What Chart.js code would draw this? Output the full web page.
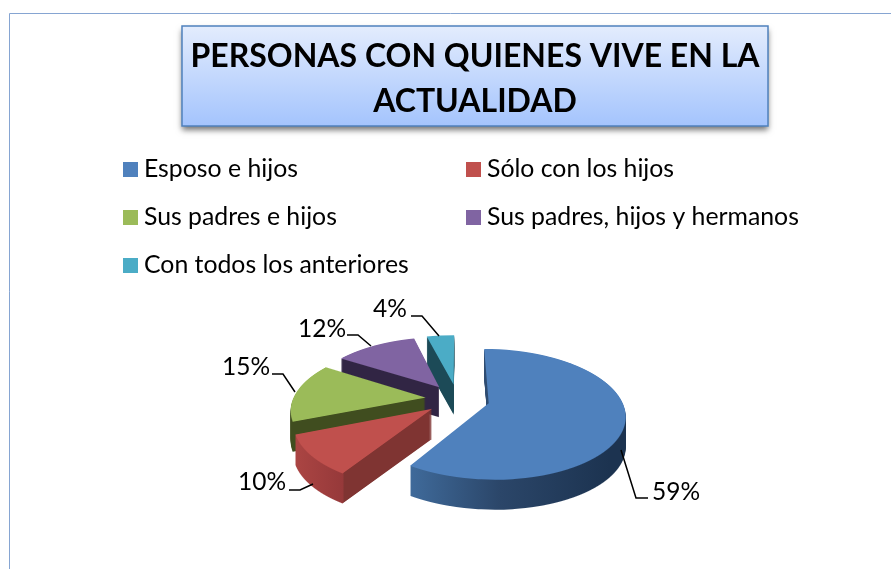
<!DOCTYPE html>
<html lang="es">
<head>
<meta charset="utf-8">
<title>Personas con quienes vive en la actualidad</title>
<script src="https://cdn.jsdelivr.net/npm/chart.js@4"></script>
<style>html,body{margin:0;padding:0;background:#fff}canvas{display:block}</style>
</head>
<body>
<canvas id="c" width="891" height="569"></canvas>
<script>
const titleLines = ['PERSONAS CON QUIENES VIVE EN LA', 'ACTUALIDAD'];
const categories = ['Esposo e hijos', 'Sólo con los hijos', 'Sus padres e hijos', 'Sus padres, hijos y hermanos', 'Con todos los anteriores'];
const values = [59, 10, 15, 12, 4];
const sliceColors = ['#4f81bd', '#c0504d', '#9bbb59', '#8064a2', '#4bacc6'];

// Layout and style constants
const FONT = 'Lato, "Open Sans", sans-serif';
const view = { cx: 457.5, cy: 399, xScale: 0.982, yScale: 0.46, persp: 0.167, explode: 32.7, depth: 30 };
const legendCols = [123, 466], legendRows = [162, 210, 258], swatch = 15, legendFont = 24.8, pctFont = 24.5;
const wallStops = [
  [[411, '#3f6a9a'], [500, '#2b4669'], [610, '#1c3350']],
  [[295, '#ab4543'], [343, '#96393a'], [344, '#7f3432'], [431, '#7f3432']],
  [[280, '#404d1f'], [440, '#404d1f']],
  [[330, '#312544'], [440, '#312544']],
  [[420, '#1c4a57'], [460, '#1c4a57']]
];
// per slice: elbow polyline and label anchor [x, y(mid)], left edge of text
const leaders = [
  { pts: [[621, 450], [636, 498], [648, 498]], tx: 652, ty: 492 },
  { pts: [[313, 484], [300, 490], [289, 490]], tx: 238, ty: 482 },
  { pts: [[295, 392], [283, 374], [272, 374]], tx: 222, ty: 367 },
  { pts: [[371, 346], [358, 335], [347, 335]], tx: 298, ty: 329 },
  { pts: [[439, 336], [422, 316], [411, 316]], tx: 373, ty: 309 }
];

function paintFrame(ctx) {
  ctx.save();
  ctx.strokeStyle = '#86a5d2';
  ctx.lineWidth = 1;
  ctx.beginPath();
  ctx.moveTo(9.5, 569); ctx.lineTo(9.5, 13.5); ctx.lineTo(891, 13.5);
  ctx.stroke();
  // title box
  const g = ctx.createLinearGradient(0, 26, 0, 126);
  g.addColorStop(0, '#e3ecfd'); g.addColorStop(1, '#a4c4fd');
  ctx.save();
  ctx.shadowColor = 'rgba(0,0,0,0.55)'; ctx.shadowBlur = 6; ctx.shadowOffsetY = 4;
  ctx.fillStyle = g;
  ctx.fillRect(182, 26, 586, 100);
  ctx.restore();
  ctx.strokeStyle = '#4f81bd'; ctx.lineWidth = 1.5;
  ctx.strokeRect(182, 26, 586, 100);
  ctx.restore();
}

function paintLegend(chart) {
  const ctx = chart.ctx, bg = chart.data.datasets[0].backgroundColor;
  ctx.save();
  ctx.font = legendFont + 'px ' + FONT;
  ctx.textBaseline = 'middle';
  chart.data.labels.forEach((name, i) => {
    const x = legendCols[i % 2], y = legendRows[Math.floor(i / 2)];
    ctx.fillStyle = bg[i];
    ctx.fillRect(x, y, swatch, swatch);
    ctx.fillStyle = '#000';
    ctx.fillText(name, x + 21, y + swatch / 2);
  });
  ctx.restore();
}

// Perspective drawing of the library's own arc elements, one screen row at a time.
function drawArcPerspective(arc, ctx, R) {
  const half = (arc.startAngle + arc.endAngle) / 2;
  const ex = Math.cos(half) * view.explode, ey = Math.sin(half) * view.explode;
  const k = view.persp / R, b = view.yScale;
  const vOf = t => t / (b + t * k);
  for (let row = 320; row < 495; row++) {
    const t0 = row - view.cy, t1 = row + 1 - view.cy, tm = (t0 + t1) / 2;
    const v0 = vOf(t0), v1 = vOf(t1), vm = vOf(tm);
    const w = 1 - k * vm;
    const sx = view.xScale / w, sy = 1 / (v1 - v0);
    ctx.save();
    ctx.beginPath();
    ctx.rect(0, row, 891, 1);
    ctx.clip();
    ctx.setTransform(sx, 0, 0, sy,
      view.cx + (ex - arc.x) * sx,
      view.cy + tm + (ey - arc.y - vm) * sy);
    arc.draw(ctx);
    ctx.restore();
  }
}

const pie3d = {
  id: 'pie3d',
  beforeDraw(chart) {
    paintFrame(chart.ctx);
  },
  beforeDatasetsDraw(chart) {
    const main = chart.ctx, arcs = chart.getDatasetMeta(0).data;
    const mk = () => { const c = document.createElement('canvas'); c.width = chart.width; c.height = chart.height; return c; };
    for (let i = arcs.length - 1; i >= 0; i--) {
      const top = mk(), wall = mk(), tc = top.getContext('2d'), wc = wall.getContext('2d');
      drawArcPerspective(arcs[i], tc, arcs[i].outerRadius);
      for (let z = 1; z <= view.depth; z++) wc.drawImage(top, 0, z);
      const stops = wallStops[i], x0 = stops[0][0], x1 = stops[stops.length - 1][0];
      const g = wc.createLinearGradient(x0, 0, x1, 0);
      stops.forEach(s => g.addColorStop((s[0] - x0) / (x1 - x0), s[1]));
      wc.globalCompositeOperation = 'source-in';
      wc.fillStyle = g;
      wc.fillRect(0, 0, chart.width, chart.height);
      main.drawImage(wall, 0, 0);
      main.drawImage(top, 0, 0);
    }
    return false;
  },
  afterDraw(chart) {
    paintLegend(chart);
    const ctx = chart.ctx, vals = chart.data.datasets[0].data;
    ctx.save();
    ctx.strokeStyle = '#000'; ctx.lineWidth = 1.5;
    ctx.fillStyle = '#000';
    ctx.font = pctFont + 'px ' + FONT;
    ctx.textBaseline = 'middle';
    leaders.forEach((l, i) => {
      ctx.beginPath();
      l.pts.forEach((p, j) => j ? ctx.lineTo(p[0], p[1]) : ctx.moveTo(p[0], p[1]));
      ctx.stroke();
      ctx.fillText(vals[i] + '%', l.tx, l.ty);
    });
    ctx.restore();
  }
};

new Chart(document.getElementById('c'), {
  type: 'pie',
  data: {
    labels: categories,
    datasets: [{ data: values, backgroundColor: sliceColors, borderWidth: 0, radius: 135 }]
  },
  options: {
    responsive: false,
    devicePixelRatio: 1,
    animation: false,
    events: [],
    layout: { padding: { left: 59, top: 34 } },
    plugins: {
      legend: { display: false },
      tooltip: { enabled: false },
      title: {
        display: true,
        text: titleLines,
        color: '#000',
        font: { family: FONT, size: 32, weight: 'bold', lineHeight: 1.4 },
        padding: 0
      }
    }
  },
  plugins: [pie3d]
});
</script>
</body>
</html>
